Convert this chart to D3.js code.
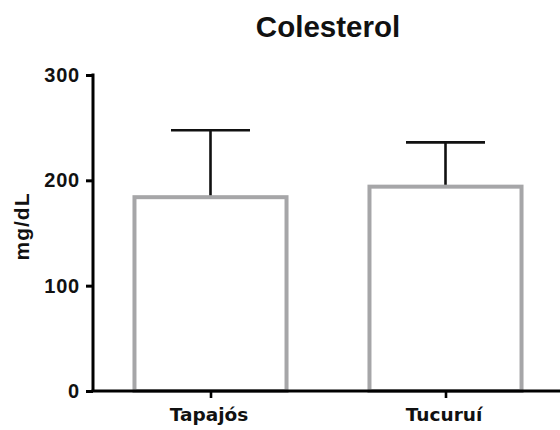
<!DOCTYPE html>
<html>
<head>
<meta charset="utf-8">
<script src="https://cdn.jsdelivr.net/npm/d3@7/dist/d3.min.js"></script>
<style>
  html, body { margin: 0; padding: 0; background: #fff; }
  svg { display: block; }
</style>
</head>
<body>
<svg id="chart" width="560" height="430"></svg>
<script>
// Cholesterol by site: mean and upper SD (mg/dL)
const categories = ["Tapajós", "Tucuruí"];
const means = [184, 194];
const upperSD = [247.5, 236];
const yTicks = [0, 100, 200, 300];

const svg = d3.select("#chart");
const plotLeft = 93, plotRight = 563, plotTop = 75, plotBottom = 391;

const x = d3.scalePoint().domain(categories).range([plotLeft, plotRight]).padding(0.5);
const y = d3.scaleLinear().domain([0, 300]).range([plotBottom, plotTop]);
const barW = x.step() * 0.647;
const capW = 79;

const data = categories.map((c, i) => ({ c, mean: means[i], hi: upperSD[i] }));

// error bars (drawn first so bar outline sits over the stem end)
const err = svg.append("g");
err.selectAll("line.stem").data(data).join("line")
  .attr("class", "stem")
  .attr("x1", d => x(d.c)).attr("x2", d => x(d.c))
  .attr("y1", d => y(d.mean)).attr("y2", d => y(d.hi))
  .attr("stroke", "#111").attr("stroke-width", 2.6);
err.selectAll("line.cap").data(data).join("line")
  .attr("class", "cap")
  .attr("x1", d => x(d.c) - capW / 2).attr("x2", d => x(d.c) + capW / 2)
  .attr("y1", d => y(d.hi)).attr("y2", d => y(d.hi))
  .attr("stroke", "#111").attr("stroke-width", 2.6);

// bars
svg.append("g").selectAll("rect").data(data).join("rect")
  .attr("x", d => x(d.c) - barW / 2)
  .attr("y", d => y(d.mean))
  .attr("width", barW)
  .attr("height", d => y(0) - y(d.mean))
  .attr("fill", "#fff")
  .attr("stroke", "#a6a6a8")
  .attr("stroke-width", 4);

// y axis
const yAxis = svg.append("g").attr("transform", `translate(${plotLeft},0)`)
  .call(d3.axisLeft(y).tickValues(yTicks).tickSize(7).tickPadding(6).tickFormat(d3.format("d")));
yAxis.select(".domain").attr("stroke", "#000").attr("stroke-width", 3)
  .attr("d", `M0,${plotTop - 1.5}V${plotBottom}`);
yAxis.selectAll(".tick line").attr("stroke", "#000").attr("stroke-width", 3);
yAxis.selectAll(".tick text")
  .attr("font-family", "Liberation Sans, Arial, sans-serif")
  .attr("font-weight", "bold")
  .attr("font-size", 20)
  .attr("letter-spacing", 0.8)
  .attr("fill", "#111");

// x axis
const xAxis = svg.append("g").attr("transform", `translate(0,${plotBottom})`)
  .call(d3.axisBottom(x).tickSize(7).tickPadding(10));
xAxis.select(".domain").attr("stroke", "#000").attr("stroke-width", 3)
  .attr("d", `M${plotLeft - 1.5},0H560`);
xAxis.selectAll(".tick line").attr("stroke", "#000").attr("stroke-width", 2.6);
xAxis.selectAll(".tick text")
  .attr("font-family", "DejaVu Sans, Verdana, sans-serif")
  .attr("font-weight", "bold")
  .attr("font-size", 18.5)
  .attr("fill", "#111")
  .attr("dx", -2);

// y axis title
svg.append("text")
  .attr("transform", `translate(29,226.5) rotate(-90)`)
  .attr("text-anchor", "middle")
  .attr("font-family", "Liberation Sans, Arial, sans-serif")
  .attr("font-weight", "bold")
  .attr("font-size", 21)
  .attr("letter-spacing", 1)
  .attr("fill", "#111")
  .text("mg/dL");

// title
svg.append("text")
  .attr("x", 328).attr("y", 37)
  .attr("text-anchor", "middle")
  .attr("font-family", "Liberation Sans, Arial, sans-serif")
  .attr("font-weight", "bold")
  .attr("font-size", 29.5)
  .attr("fill", "#111")
  .text("Colesterol");
</script>
</body>
</html>
